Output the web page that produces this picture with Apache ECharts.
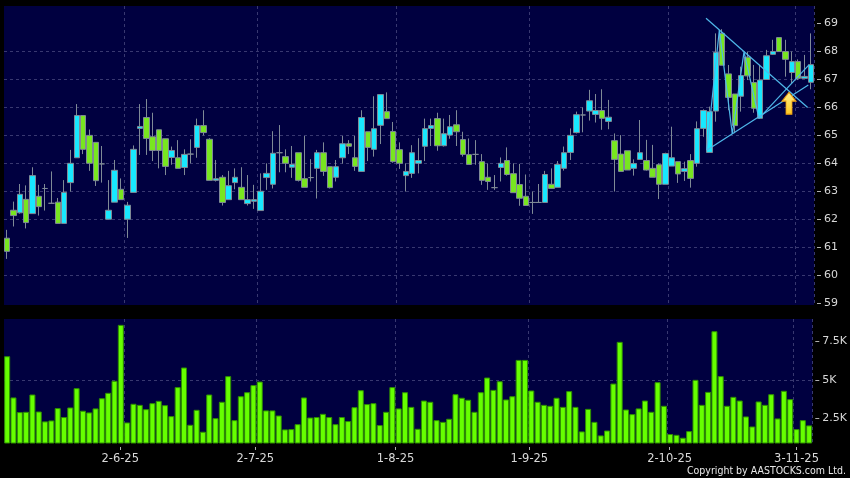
<!DOCTYPE html>
<html>
<head>
<meta charset="utf-8">
<style>
  html, body { margin: 0; padding: 0; background: #000; }
  #chart { width: 850px; height: 478px; }
</style>
<script src="https://cdn.jsdelivr.net/npm/echarts@6/dist/echarts.min.js"></script>
</head>
<body>
<div id="chart"></div>
<script>
const opens = [
  61.32,62.32,62.23,62.71,62.2,62.82,63.1,62.57,62.61,61.85,
  63.31,64.2,65.71,65,64.75,63.98,62,62.61,63.07,62,
  62.96,65.25,65.64,64.95,65.2,64.88,64.21,64.2,63.85,64.33,
  64.57,65.35,64.86,63.39,63.5,62.7,63.31,63.14,62.56,62.64,
  62.31,63.49,63.25,64.38,64.24,63.86,64.38,63.45,63.49,63.82,
  64.38,63.88,63.5,64.2,64.7,64.2,63.71,65.13,64.5,65.36,
  65.85,65.14,64.49,63.56,63.64,64,64.61,65.25,65.6,64.63,
  65.01,65.38,64.85,64.31,64.32,64.06,63.5,63.13,63.85,64.1,
  63.63,63.24,62.82,62.6,62.6,62.6,63.25,63.14,63.82,64.39,
  65.1,65.73,65.87,65.75,65.89,65.5,64.81,64.33,64.45,63.82,
  64.14,64.1,63.82,63.95,63.25,63.9,64.06,63.71,64.1,64,
  65.25,64.39,65.87,68.65,67.2,66.48,66.4,67.8,66.89,65.61,
  67,67.9,68.5,68,67.25,67.64,67.04,66.9
];
const closes = [
  60.85,62.13,62.89,61.88,63.56,62.45,63.1,62.57,61.85,62.96,
  64,65.71,64.5,64,63.38,63.98,62.32,63.75,62.7,62.5,
  64.5,65.32,64.89,64.46,64.46,63.89,64.46,63.82,64.32,64.33,
  65.35,65.1,63.39,63.45,62.6,63.2,63.5,62.7,62.7,62.7,
  63,63.64,64.36,64.38,64,63.96,63.39,63.14,63.49,64.38,
  63.71,63.13,63.88,64.7,64.61,63.89,65.64,64.57,65.24,66.46,
  65.6,64.06,64,63.71,64.38,64.1,65.24,65.35,64.63,65.06,
  65.31,65.13,64.32,63.96,64.32,63.39,63.35,63.13,64,63.6,
  62.95,62.75,62.49,62.6,62.6,63.6,63.1,63.96,64.38,65,
  65.74,65.73,66.24,65.89,65.61,65.65,64.14,63.71,63.76,63.99,
  64.38,63.76,63.5,63.25,64.35,64.2,63.62,63.81,63.46,65.24,
  65.89,65.85,67.97,67.51,66.36,65.35,67.14,67.13,65.97,66.98,
  67.85,68,68,67.72,67.64,67.04,67.11,67.53
];
const lows = [
  60.58,61.74,62.2,61.67,62.2,62.13,62.31,62.55,61.85,61.85,
  62.99,64.2,64.33,63.73,63.19,63.31,62,62.61,62.69,61.33,
  62.96,64.3,64.3,64.08,63.82,63.58,63.95,63.82,63.58,64,
  64.2,65,63.39,63.35,62.49,62.7,63.07,62.7,62.49,62.37,
  62.31,63.05,63.1,63.68,63.68,63.48,63.35,63.14,63.35,62.74,
  63.55,63.1,63.35,63.99,64.33,63.73,63.71,64.08,64.24,64.69,
  65.6,64.02,63.8,62.99,63.48,63.64,64.08,64.62,64.45,64.6,
  64.88,64.62,64.24,63.96,63.95,63.23,63.05,63.05,63.35,63.56,
  62.95,62.48,62.49,62.19,62.6,62.6,63.1,63.14,63.74,64.12,
  65.07,65.11,65.53,65.46,65.2,65.22,62.99,63.71,63.76,63.56,
  64.14,63.74,63.5,62.72,63.25,63.9,63.3,63.37,63.13,63.88,
  64.95,64.39,65.49,67.51,65.9,65.08,65.85,66.98,65.81,65.61,
  67,67.88,68,67.1,66.86,66.98,67.04,66.65
];
const highs = [
  61.62,62.63,63.26,63.21,63.86,63.23,63.26,63.71,62.76,63.4,
  64.48,66.12,65.71,65.21,64.75,64.62,63.4,64.12,63.46,62.62,
  64.64,66.12,66.3,65.81,65.2,64.88,64.6,64.83,64.5,64.86,
  65.6,65.9,64.9,64.12,63.58,63.73,63.82,63.86,63.58,63.23,
  63.64,64,65.15,65.37,64.5,64.62,64.38,64.98,64.15,64.48,
  64.75,63.88,64.12,64.98,64.83,64.98,65.9,65.13,66.4,66.46,
  66.54,65.48,64.75,64,64.65,64.9,65.6,65.6,65.81,65.6,
  65.73,65.9,65.13,64.89,64.83,64.33,64,63.58,64.21,64.57,
  64,63.98,63.6,62.99,63.26,63.73,63.82,64.08,64.6,65.25,
  65.85,66,66.63,66.48,66.65,66.27,65.07,65.01,64.45,64.14,
  65.55,64.84,64.66,64,64.38,65.31,64.06,64.06,64.33,65.5,
  65.93,66.03,68.65,68.8,67.52,66.48,67.46,68,67.52,67.52,
  68.06,68.42,68.5,68.42,68,67.72,67.88,68.65
];
// volume in thousands
const volumes = [
  6.53,3.86,2.91,2.93,4.05,2.95,2.31,2.37,3.17,2.59,
  3.21,4.46,3,2.89,3.15,3.81,4.16,4.94,8.56,2.24,
  3.45,3.38,3.1,3.49,3.64,3.36,2.65,4.53,5.8,2.09,
  3.06,1.64,4.05,2.52,3.58,5.24,2.39,3.94,4.2,4.66,
  4.89,3.02,3.02,2.69,1.79,1.81,2.13,3.86,2.56,2.59,
  2.8,2.59,2.13,2.59,2.33,3.23,4.33,3.43,3.49,2.07,
  2.93,4.53,3.15,4.2,3.25,1.83,3.66,3.58,2.39,2.28,
  2.48,4.07,3.84,3.71,2.93,4.2,5.15,4.35,4.91,3.73,
  3.94,6.29,6.29,4.31,3.58,3.38,3.32,3.84,3.25,4.27,
  3.25,1.66,3.12,2.28,1.4,1.72,4.76,7.46,3.08,2.78,
  3.15,3.66,2.93,4.85,3.32,1.49,1.44,1.25,1.68,5,
  3.38,4.22,8.15,5.24,3.32,3.9,3.66,2.63,1.98,3.6,
  3.38,4.07,2.5,4.29,3.75,1.81,2.39,2.05
];
const dateLabels = ['2-6-25', '2-7-25', '1-8-25', '1-9-25', '2-10-25', '3-11-25'];
const dateLabelSlots = [18.4, 39.8, 62, 83.2, 105.4, 125.5];
const monthBreaks = [19, 40, 62, 83, 105, 125];
const priceTicks = [59, 60, 61, 62, 63, 64, 65, 66, 67, 68, 69];
const volumeTicks = [2.5, 5, 7.5];

// drawn trend lines: [slot, price]
const fallingLine = [[110.94, 69.19], [127, 66]];
const risingLine = [[111.05, 64.47], [127.1, 66.8]];
const steepLine = [[119.3, 65.61], [127.2, 67.52]];
const zigzagLine = [[111.05, 64.47], [113.04, 68.77], [115.09, 65.05], [116.94, 67.99], [119.3, 65.61]];
const arrowPoint = [[124.05, 66.15]];

const categories = volumes.map((v, i) => String(i));
const candles = opens.map((o, i) => [o, closes[i], lows[i], highs[i]]);

const gridLine = { show: true, lineStyle: { color: '#383870', width: 1, type: [3, 3] } };
const axisText = { color: '#d8d8d8', fontSize: 11, fontFamily: 'DejaVu Sans' };
const hiddenLine = { show: true, onZero: false, lineStyle: { color: 'rgba(0,0,0,0)' } };

function trend(points) {
  return {
    type: 'line', xAxisIndex: 2, yAxisIndex: 0, data: points,
    showSymbol: false, symbol: 'none', clip: false, silent: true, z: 5,
    lineStyle: { color: '#4fb8ea', width: 1.2 }
  };
}

const chart = echarts.init(document.getElementById('chart'));
chart.setOption({
  animation: false,
  backgroundColor: '#000000',
  title: {
    text: 'Copyright by AASTOCKS.com Ltd.',
    right: 4, top: 466, padding: 0,
    textStyle: { color: '#e8e8e8', fontSize: 10.5, fontWeight: 'normal', fontFamily: 'DejaVu Sans Condensed' }
  },
  grid: [
    { left: 4, top: 6, width: 810, height: 299, show: true, backgroundColor: '#000040', borderWidth: 0 },
    { left: 4, top: 319, width: 810, height: 124, show: true, backgroundColor: '#000040', borderWidth: 0 }
  ],
  xAxis: [
    {
      type: 'category', gridIndex: 0, data: categories,
      axisLine: { show: false }, axisTick: { show: false }, axisLabel: { show: false },
      splitLine: Object.assign({}, gridLine, { interval: i => monthBreaks.includes(i) })
    },
    {
      type: 'category', gridIndex: 1, data: categories,
      axisLine: { show: false }, axisTick: { show: false }, axisLabel: { show: false },
      splitLine: Object.assign({}, gridLine, { interval: i => monthBreaks.includes(i) })
    },
    {
      type: 'value', gridIndex: 0, min: 0, max: 128, show: false, splitLine: { show: false }
    },
    {
      type: 'value', gridIndex: 1, min: 0, max: 128, position: 'bottom', offset: 4,
      axisLine: hiddenLine,
      axisTick: { show: true, length: 3, customValues: dateLabelSlots, lineStyle: { color: '#b0b0b0' } },
      axisLabel: Object.assign({}, axisText, {
        customValues: dateLabelSlots, margin: 6, fontSize: 11.5,
        formatter: v => dateLabels[dateLabelSlots.indexOf(v)]
      }),
      splitLine: { show: false }
    }
  ],
  yAxis: [
    {
      type: 'value', gridIndex: 0, position: 'right', min: 58.93, max: 69.63, interval: 1, offset: 3,
      axisLine: hiddenLine,
      axisTick: { show: true, length: 4, customValues: priceTicks, lineStyle: { color: '#b0b0b0' } },
      axisLabel: Object.assign({}, axisText, { customValues: priceTicks, margin: 7, padding: [3, 0, 0, 0] }),
      splitLine: Object.assign({}, gridLine, { showMinLine: false, showMaxLine: false })
    },
    {
      type: 'value', gridIndex: 1, position: 'right', min: 0.91, max: 8.94, interval: 2.5, offset: 3,
      axisLine: hiddenLine,
      axisTick: { show: true, length: 4, customValues: volumeTicks, lineStyle: { color: '#b0b0b0' } },
      axisLabel: Object.assign({}, axisText, { customValues: volumeTicks, margin: 7, padding: [3, 0, 0, 0], formatter: v => v + 'K' }),
      splitLine: Object.assign({}, gridLine, { showMinLine: false, showMaxLine: false })
    }
  ],
  series: [
    {
      type: 'candlestick', xAxisIndex: 0, yAxisIndex: 0, data: candles, barWidth: 6,
      itemStyle: { color: '#18e8ff', color0: '#78e620', borderColor: '#7f8a96', borderColor0: '#7f8a96', borderWidth: 1 }
    },
    {
      type: 'bar', xAxisIndex: 1, yAxisIndex: 1, data: volumes, barWidth: 6,
      itemStyle: { color: '#66ff00', borderColor: '#2f9000', borderWidth: 1 }
    },
    trend(fallingLine),
    trend(risingLine),
    trend(steepLine),
    trend(zigzagLine),
    {
      type: 'scatter', xAxisIndex: 2, yAxisIndex: 0, data: arrowPoint, z: 6, silent: true,
      symbol: 'path://M7 0 L14 9 L10 9 L10 22 L4 22 L4 9 L0 9 Z',
      symbolSize: [14, 22],
      itemStyle: {
        opacity: 1,
        color: new echarts.graphic.LinearGradient(0, 0, 0, 1, [
          { offset: 0, color: '#fff08a' }, { offset: 1, color: '#ffc820' }
        ]),
        borderColor: '#e89a10', borderWidth: 1
      }
    }
  ]
});
</script>
</body>
</html>
